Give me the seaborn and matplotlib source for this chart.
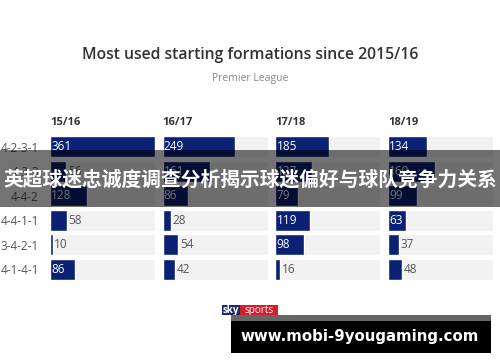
import matplotlib
matplotlib.use("Agg")
import matplotlib.pyplot as plt
import seaborn as sns
import pandas as pd
from matplotlib.patches import Rectangle

formations = ["4-2-3-1", "4-3-3", "4-4-2", "4-4-1-1", "3-4-2-1", "4-1-4-1"]
seasons = ["15/16", "16/17", "17/18", "18/19"]
s1516 = [361, 56, 128, 58, 10, 86]
s1617 = [249, 161, 86, 28, 54, 42]
s1718 = [185, 127, 79, 119, 98, 16]
s1819 = [134, 160, 99, 63, 37, 48]
season_values = [s1516, s1617, s1718, s1819]

sns.set_theme(style="white")
plt.rcParams["font.family"] = ["Open Sans", "DejaVu Sans"]

navy = "#0b2174"
bg = "#f2f2f2"

W, H = 500, 362
fig = plt.figure(figsize=(5, 3.62), dpi=100)
fig.patch.set_facecolor("white")

top_px, row_px = 134.4, 24.5
ax_h = 6 * row_px
max_val = max(max(v) for v in season_values)

for i, (season, vals) in enumerate(zip(seasons, season_values)):
    left_px = 50 + i * 112.7
    ax = fig.add_axes([left_px / W, 1 - (top_px + ax_h) / H, 105 / W, ax_h / H])
    df = pd.DataFrame({"formation": formations, "value": vals, "full": [max_val] * len(vals)})
    sns.barplot(data=df, y="formation", x="full", color=bg, width=0.86,
                saturation=1, ax=ax, orient="h")
    sns.barplot(data=df, y="formation", x="value", color=navy, width=0.86,
                saturation=1, ax=ax, orient="h")
    ax.set_xlim(0, max_val)
    ax.set_ylim(5.5, -0.5)
    ax.set_xlabel("")
    ax.set_ylabel("")
    ax.set_xticks([])
    for s in ax.spines.values():
        s.set_visible(False)
    if i == 0:
        ax.tick_params(axis="y", length=0, pad=8, labelsize=8.5, labelcolor="#555555")
    else:
        ax.set_yticks([])
    for j, v in enumerate(vals):
        if v >= 60:
            ax.text(4, j, str(v), va="center", ha="left", color="white", fontsize=8.5)
        else:
            ax.text(v + 5, j, str(v), va="center", ha="left", color="#555555", fontsize=8.5)
    ax.text(0, -0.75, season, ha="left", va="bottom", fontsize=8,
            fontweight="bold", color="#333333")

fig.text(0.5, 1 - 55 / H, "Most used starting formations since 2015/16",
         ha="center", va="center", fontsize=11.3, fontweight=600, color="#333333")
fig.text(0.5, 1 - 79 / H, "Premier League", ha="center", va="center",
         fontsize=7.5, color="#888888")

# sky sports logo
fig.patches.append(Rectangle((222 / W, 1 - 315 / H), 18 / W, 10 / H, lw=0,
                             transform=fig.transFigure, color="#1c2a6b", zorder=5))
fig.patches.append(Rectangle((240 / W, 1 - 315 / H), 38 / W, 10 / H, lw=0,
                             transform=fig.transFigure, color="#d21f2b", zorder=5))
fig.text(231 / W, 1 - 310.5 / H, "sky", ha="center", va="center", fontsize=7,
         fontweight="bold", color="white", zorder=6)
fig.text(259 / W, 1 - 310.5 / H, "sports", ha="center", va="center", fontsize=7.2,
         color="white", zorder=6)

# watermark banner
fig.patches.append(Rectangle((0, 1 - 207 / H), 1, 57 / H, transform=fig.transFigure,
                             color="black", alpha=0.55, lw=0, zorder=10))
fig.text(0.5, 1 - 180 / H, "英超球迷忠诚度调查分析揭示球迷偏好与球队竞争力关系",
         ha="center", va="center", fontsize=14.2, fontweight="bold", color="white",
         family=["Noto Sans CJK SC", "DejaVu Sans"], zorder=11)

# url box
fig.patches.append(Rectangle((231 / W, 1 - 321 / H), 260 / W, 6 / H, lw=0,
                             transform=fig.transFigure, color="#666666", zorder=10))
fig.patches.append(Rectangle((231 / W, 1 - 353 / H), 260 / W, 32 / H, lw=0,
                             transform=fig.transFigure, color="black", zorder=10))
fig.text(360 / W, 1 - 337 / H, "www.mobi-9yougaming.com", ha="center", va="center",
         fontsize=10.8, fontweight="bold", color="white",
         family=["DejaVu Sans"], zorder=11)

fig.savefig("out.png", dpi=100)
